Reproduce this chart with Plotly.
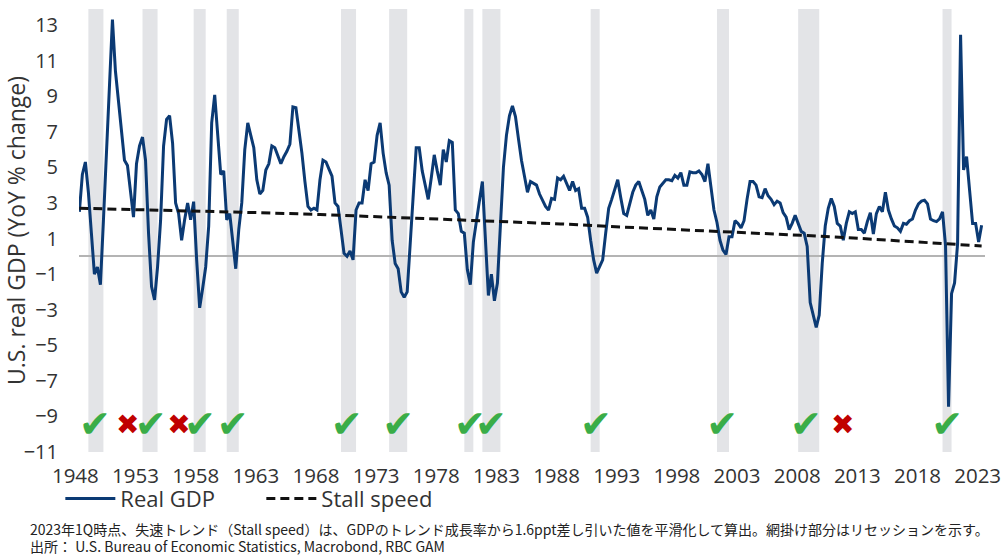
import plotly.graph_objects as go

# ---------------- data ----------------
start_year = 1948  # first quarter: 1948Q1, quarterly through 2023Q1
gdp_yoy = [
    2.5, 4.6, 5.3, 3.6,        # 1948
    1.3, -1.0, -0.6, -1.6,     # 1949
    2.0, 5.8, 9.6, 13.3,       # 1950
    10.4, 8.8, 7.0, 5.4,       # 1951
    5.1, 3.5, 2.2, 5.2,        # 1952
    6.2, 6.7, 5.4, 1.3,        # 1953
    -1.7, -2.45, -0.6, 2.0,    # 1954
    6.2, 7.7, 7.9, 6.35,       # 1955
    3.0, 2.4, 0.9, 2.05,       # 1956
    3.0, 2.05, 3.07, -0.2,     # 1957
    -2.9, -1.8, -0.6, 1.7,     # 1958
    7.5, 9.07, 6.9, 4.6,       # 1959
    4.8, 2.05, 2.4, 0.7,       # 1960
    -0.7, 1.5, 3.0, 6.0,       # 1961
    7.5, 6.8, 6.1, 4.3,        # 1962
    3.5, 3.7, 4.85, 5.2,       # 1963
    6.2, 6.1, 5.6, 5.2,        # 1964
    5.6, 5.9, 6.3, 8.4,        # 1965
    8.35, 7.2, 5.8, 4.2,       # 1966
    2.8, 2.6, 2.7, 2.6,        # 1967
    4.3, 5.4, 5.3, 4.9,        # 1968
    4.5, 3.0, 2.8, 1.5,        # 1969
    0.17, 0.0, 0.3, -0.2,      # 1970
    2.6, 3.0, 3.0, 4.3,        # 1971
    3.7, 5.2, 5.3, 6.8,        # 1972
    7.5, 5.8, 4.7, 4.0,        # 1973
    0.9, -0.4, -0.7, -2.0,     # 1974
    -2.3, -2.0, 0.6, 3.5,      # 1975
    6.1, 6.1, 4.8, 4.0,        # 1976
    3.2, 4.4, 5.7, 4.8,        # 1977
    4.0, 6.0, 5.3, 6.5,        # 1978
    6.4, 2.6, 2.4, 1.4,        # 1979
    1.3, -0.76, -1.6, 0.8,     # 1980
    2.1, 3.1, 4.2, 0.7,        # 1981
    -2.2, -1.0, -2.5, -1.5,    # 1982
    1.9, 5.0, 6.8, 7.9,        # 1983
    8.45, 7.85, 6.6, 5.4,      # 1984
    4.5, 3.6, 4.2, 4.1,        # 1985
    4.0, 3.5, 3.1, 2.8,        # 1986
    2.6, 3.25, 3.2, 4.4,       # 1987
    4.3, 4.5, 4.1, 3.7,        # 1988
    4.2, 3.7, 3.8, 2.7,        # 1989
    2.7, 2.2, 0.9, -0.2,       # 1990
    -0.95, -0.6, -0.2, 1.3,    # 1991
    2.7, 3.2, 3.7, 4.3,        # 1992
    3.3, 2.4, 2.3, 2.9,        # 1993
    3.6, 4.0, 4.2, 3.7,        # 1994
    3.2, 2.3, 2.6, 2.1,        # 1995
    3.35, 3.9, 4.1, 4.3,       # 1996
    4.3, 4.25, 4.55, 4.4,      # 1997
    4.7, 4.0, 4.0, 4.75,       # 1998
    4.7, 4.7, 4.8, 4.6,        # 1999
    4.2, 5.2, 3.9, 2.6,        # 2000
    1.9, 0.9, 0.35, 0.1,       # 2001
    1.1, 1.1, 2.0, 1.85,       # 2002
    1.6, 2.0, 3.2, 4.2,        # 2003
    4.2, 4.0, 3.35, 3.3,       # 2004
    3.8, 3.4, 3.2, 2.9,        # 2005
    3.1, 3.0, 2.45, 2.2,       # 2006
    1.5, 1.85, 2.3, 1.85,      # 2007
    1.4, 1.3, 0.55, -2.6,      # 2008
    -3.35, -4.0, -3.3, -0.4,   # 2009
    1.7, 2.7, 3.25, 2.8,       # 2010
    1.85, 1.7, 0.9, 1.85,      # 2011
    2.5, 2.4, 2.5, 1.5,        # 2012
    1.5, 1.3, 1.95, 2.45,      # 2013
    1.25, 2.4, 2.8, 2.5,       # 2014
    3.6, 2.6, 2.1, 1.7,        # 2015
    1.6, 1.4, 1.85, 1.8,       # 2016
    2.0, 2.1, 2.6, 2.95,       # 2017
    3.1, 3.15, 2.95, 2.1,      # 2018
    2.0, 1.95, 2.1, 2.5,       # 2019
    0.6, -8.45, -2.1, -1.5,    # 2020
    0.7, 12.45, 4.85, 5.6,     # 2021
    3.7, 1.85, 1.85, 0.8,      # 2022
    1.75,                      # 2023
]

stall_years = [1948, 1953, 1958, 1963, 1968, 1973, 1978, 1983, 1988,
               1993, 1998, 2003, 2008, 2013, 2018, 2023]
stall_values = [2.70, 2.63, 2.55, 2.45, 2.35, 2.22, 2.10, 1.97, 1.82,
                1.65, 1.50, 1.35, 1.18, 1.00, 0.80, 0.58]

rec_start = [1948.75, 1953.25, 1957.5, 1960.25, 1969.75, 1973.75, 1980.0,
             1981.5, 1990.5, 2001.0, 2007.75, 2019.75]
rec_end = [1950.0, 1954.5, 1958.5, 1961.25, 1971.0, 1975.25, 1980.75,
           1983.0, 1991.25, 2002.0, 2009.5, 2020.5]

check_years = [1949.30, 1953.93, 1958.03, 1960.75, 1970.22, 1974.51,
               1980.47, 1982.22, 1990.94, 2001.44, 2008.40, 2020.14]
cross_years = [1952.02, 1956.28, 2011.45]
marker_level = -9.6

tick_years = list(range(1948, 2024, 5))
y_ticks = list(range(-11, 14, 2))

footnote1 = "2023年1Q時点、失速トレンド（Stall speed）は、GDPのトレンド成長率から1.6ppt差し引いた値を平滑化して算出。網掛け部分はリセッションを示す。"
footnote2 = "出所： U.S. Bureau of Economic Statistics, Macrobond, RBC GAM"

# ---------------- figure ----------------
quarters = [start_year + i / 4 for i in range(len(gdp_yoy))]

FONT = "Open Sans, Noto Sans, sans-serif"
TXT = "#333333"
fig = go.Figure()

fig.add_trace(go.Scatter(
    x=quarters, y=gdp_yoy, mode="lines", name="Real GDP",
    line=dict(color="#0b3a74", width=3), hoverinfo="skip"))
fig.add_trace(go.Scatter(
    x=stall_years, y=stall_values, mode="lines", name="Stall speed",
    line=dict(color="#111111", width=3, dash="9px,5px"), hoverinfo="skip"))
fig.add_trace(go.Scatter(
    x=check_years, y=[marker_level] * len(check_years), mode="text",
    text=["✔"] * len(check_years), textposition="middle center",
    textfont=dict(family="DejaVu Sans", size=38, color="#3aad48"),
    showlegend=False, hoverinfo="skip"))
fig.add_trace(go.Scatter(
    x=cross_years, y=[marker_level] * len(cross_years), mode="text",
    text=["✖"] * len(cross_years), textposition="middle center",
    textfont=dict(family="DejaVu Sans", size=28, color="#c00000"),
    showlegend=False, hoverinfo="skip"))

for s, e in zip(rec_start, rec_end):
    fig.add_shape(type="rect", xref="x", yref="paper", x0=s, x1=e, y0=0, y1=1,
                  fillcolor="#e3e4e7", line=dict(width=0), layer="below")

fig.add_annotation(text=footnote1, xref="paper", yref="paper", x=-0.056, y=-0.1738,
                   xanchor="left", yanchor="middle", showarrow=False,
                   font=dict(family="Noto Sans CJK JP", size=14, color="#222222"))
fig.add_annotation(text=footnote2, xref="paper", yref="paper", x=-0.056, y=-0.2122,
                   xanchor="left", yanchor="middle", showarrow=False,
                   font=dict(family="Noto Sans CJK JP", size=14, color="#222222"))

fig.update_layout(
    width=1004, height=555,
    margin=dict(l=79, r=19, t=9, b=103, autoexpand=False),
    paper_bgcolor="white", plot_bgcolor="white",
    font=dict(family=FONT, color=TXT),
    showlegend=True,
    legend=dict(orientation="h", x=-0.0206, y=-0.1055, xanchor="left", yanchor="middle",
                font=dict(family=FONT, size=22, color=TXT),
                itemwidth=50, entrywidth=136, entrywidthmode="pixels",
                bgcolor="rgba(0,0,0,0)"),
    xaxis=dict(range=[1947.97, 2023.28], tickmode="array", tickvals=tick_years,
               ticktext=[str(y) for y in tick_years], showgrid=False, zeroline=False,
               showline=False, ticks="", ticklabelstandoff=9, ticklabelshift=-4,
               ticklabeloverflow="allow", automargin=False,
               tickfont=dict(size=20.5, color=TXT)),
    yaxis=dict(range=[-11, 13.9], tickmode="array", tickvals=y_ticks,
               showgrid=False, zeroline=True, zerolinecolor="#b4b4b4", zerolinewidth=1.5,
               showline=False, ticks="", ticklabelstandoff=20, automargin=False,
               tickfont=dict(size=20, color=TXT),
               title=dict(text="U.S. real GDP (YoY % change)", font=dict(size=23, color=TXT),
                          standoff=2)),
)

fig.write_html("out.html", config={"displayModeBar": False},
               post_script="document.body.style.margin='0px'; document.body.style.overflow='hidden';")
